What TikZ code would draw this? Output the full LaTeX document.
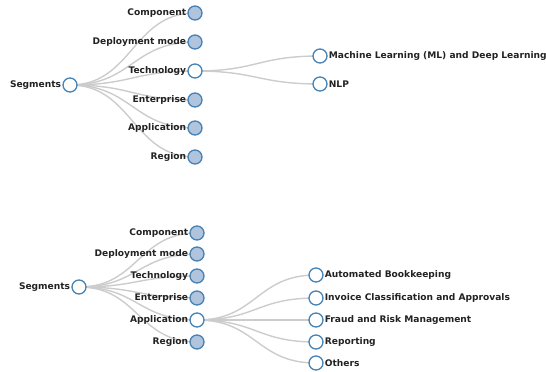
\documentclass[tikz,border=0pt]{standalone}
\usepackage{fontspec}
\setmainfont{DejaVu Sans}
\usetikzlibrary{backgrounds,calc}
\definecolor{steel}{HTML}{4682B4}
\definecolor{lsteel}{HTML}{B0C4DE}
\definecolor{linkc}{HTML}{CCCCCC}
\definecolor{txt}{HTML}{222222}
\tikzset{
  open/.style={circle,draw=steel,line width=1.3pt,fill=white,minimum size=14pt,inner sep=0pt},
  closed/.style={open,fill=lsteel},
  lbl/.style={font=\fontsize{9.1}{11}\selectfont\bfseries,text=txt,inner sep=0pt},
  link/.style={draw=linkc,line width=1.4pt}
}
\newcommand{\lnk}[2]{\draw[link] let \p1=(#1.center), \p2=(#2.center) in (\p1) .. controls ({(\x1+\x2)/2},\y1) and ({(\x1+\x2)/2},\y2) .. (\p2);}
\begin{document}
\begin{tikzpicture}[x=1pt,y=-1pt]
\useasboundingbox (0,0) rectangle (546,372);
% top tree
\node[open] (s1) at (70,85) {};
\node[closed] (c1) at (195,13) {};
\node[closed] (d1) at (195,42) {};
\node[open] (t1) at (195,71) {};
\node[closed] (e1) at (195,100) {};
\node[closed] (a1) at (195,128) {};
\node[closed] (r1) at (195,157) {};
\node[open] (ml) at (320,56) {};
\node[open] (nlp) at (320,84) {};
\node[lbl,anchor=east] at ($(s1.west)+(-1,0)$) {Segments};
\node[lbl,anchor=east] at ($(c1.west)+(-1,0)$) {Component};
\node[lbl,anchor=east] at ($(d1.west)+(-1,0)$) {Deployment mode};
\node[lbl,anchor=east] at ($(t1.west)+(-1,0)$) {Technology};
\node[lbl,anchor=east] at ($(e1.west)+(-1,0)$) {Enterprise};
\node[lbl,anchor=east] at ($(a1.west)+(-1,0)$) {Application};
\node[lbl,anchor=east] at ($(r1.west)+(-1,0)$) {Region};
\node[lbl,anchor=west] at ($(ml.east)+(1,0)$) {Machine Learning (ML) and Deep Learning};
\node[lbl,anchor=west] at ($(nlp.east)+(1,0)$) {NLP};
% bottom tree
\node[open] (s2) at (79,287) {};
\node[closed] (c2) at (197,233) {};
\node[closed] (d2) at (197,254) {};
\node[closed] (t2) at (197,276) {};
\node[closed] (e2) at (197,298) {};
\node[open] (a2) at (197,320) {};
\node[closed] (r2) at (197,342) {};
\node[open] (ab) at (316,275) {};
\node[open] (ic) at (316,298) {};
\node[open] (fr) at (316,320) {};
\node[open] (rp) at (316,342) {};
\node[open] (ot) at (316,363) {};
\node[lbl,anchor=east] at ($(s2.west)+(-1,0)$) {Segments};
\node[lbl,anchor=east] at ($(c2.west)+(-1,0)$) {Component};
\node[lbl,anchor=east] at ($(d2.west)+(-1,0)$) {Deployment mode};
\node[lbl,anchor=east] at ($(t2.west)+(-1,0)$) {Technology};
\node[lbl,anchor=east] at ($(e2.west)+(-1,0)$) {Enterprise};
\node[lbl,anchor=east] at ($(a2.west)+(-1,0)$) {Application};
\node[lbl,anchor=east] at ($(r2.west)+(-1,0)$) {Region};
\node[lbl,anchor=west] at ($(ab.east)+(1,0)$) {Automated Bookkeeping};
\node[lbl,anchor=west] at ($(ic.east)+(1,0)$) {Invoice Classification and Approvals};
\node[lbl,anchor=west] at ($(fr.east)+(1,0)$) {Fraud and Risk Management};
\node[lbl,anchor=west] at ($(rp.east)+(1,0)$) {Reporting};
\node[lbl,anchor=west] at ($(ot.east)+(1,0)$) {Others};
\begin{pgfonlayer}{background}
\foreach \c in {c1,d1,t1,e1,a1,r1} {\lnk{s1}{\c}}
\foreach \c in {ml,nlp} {\lnk{t1}{\c}}
\foreach \c in {c2,d2,t2,e2,a2,r2} {\lnk{s2}{\c}}
\foreach \c in {ab,ic,fr,rp,ot} {\lnk{a2}{\c}}
\end{pgfonlayer}
\end{tikzpicture}
\end{document}
